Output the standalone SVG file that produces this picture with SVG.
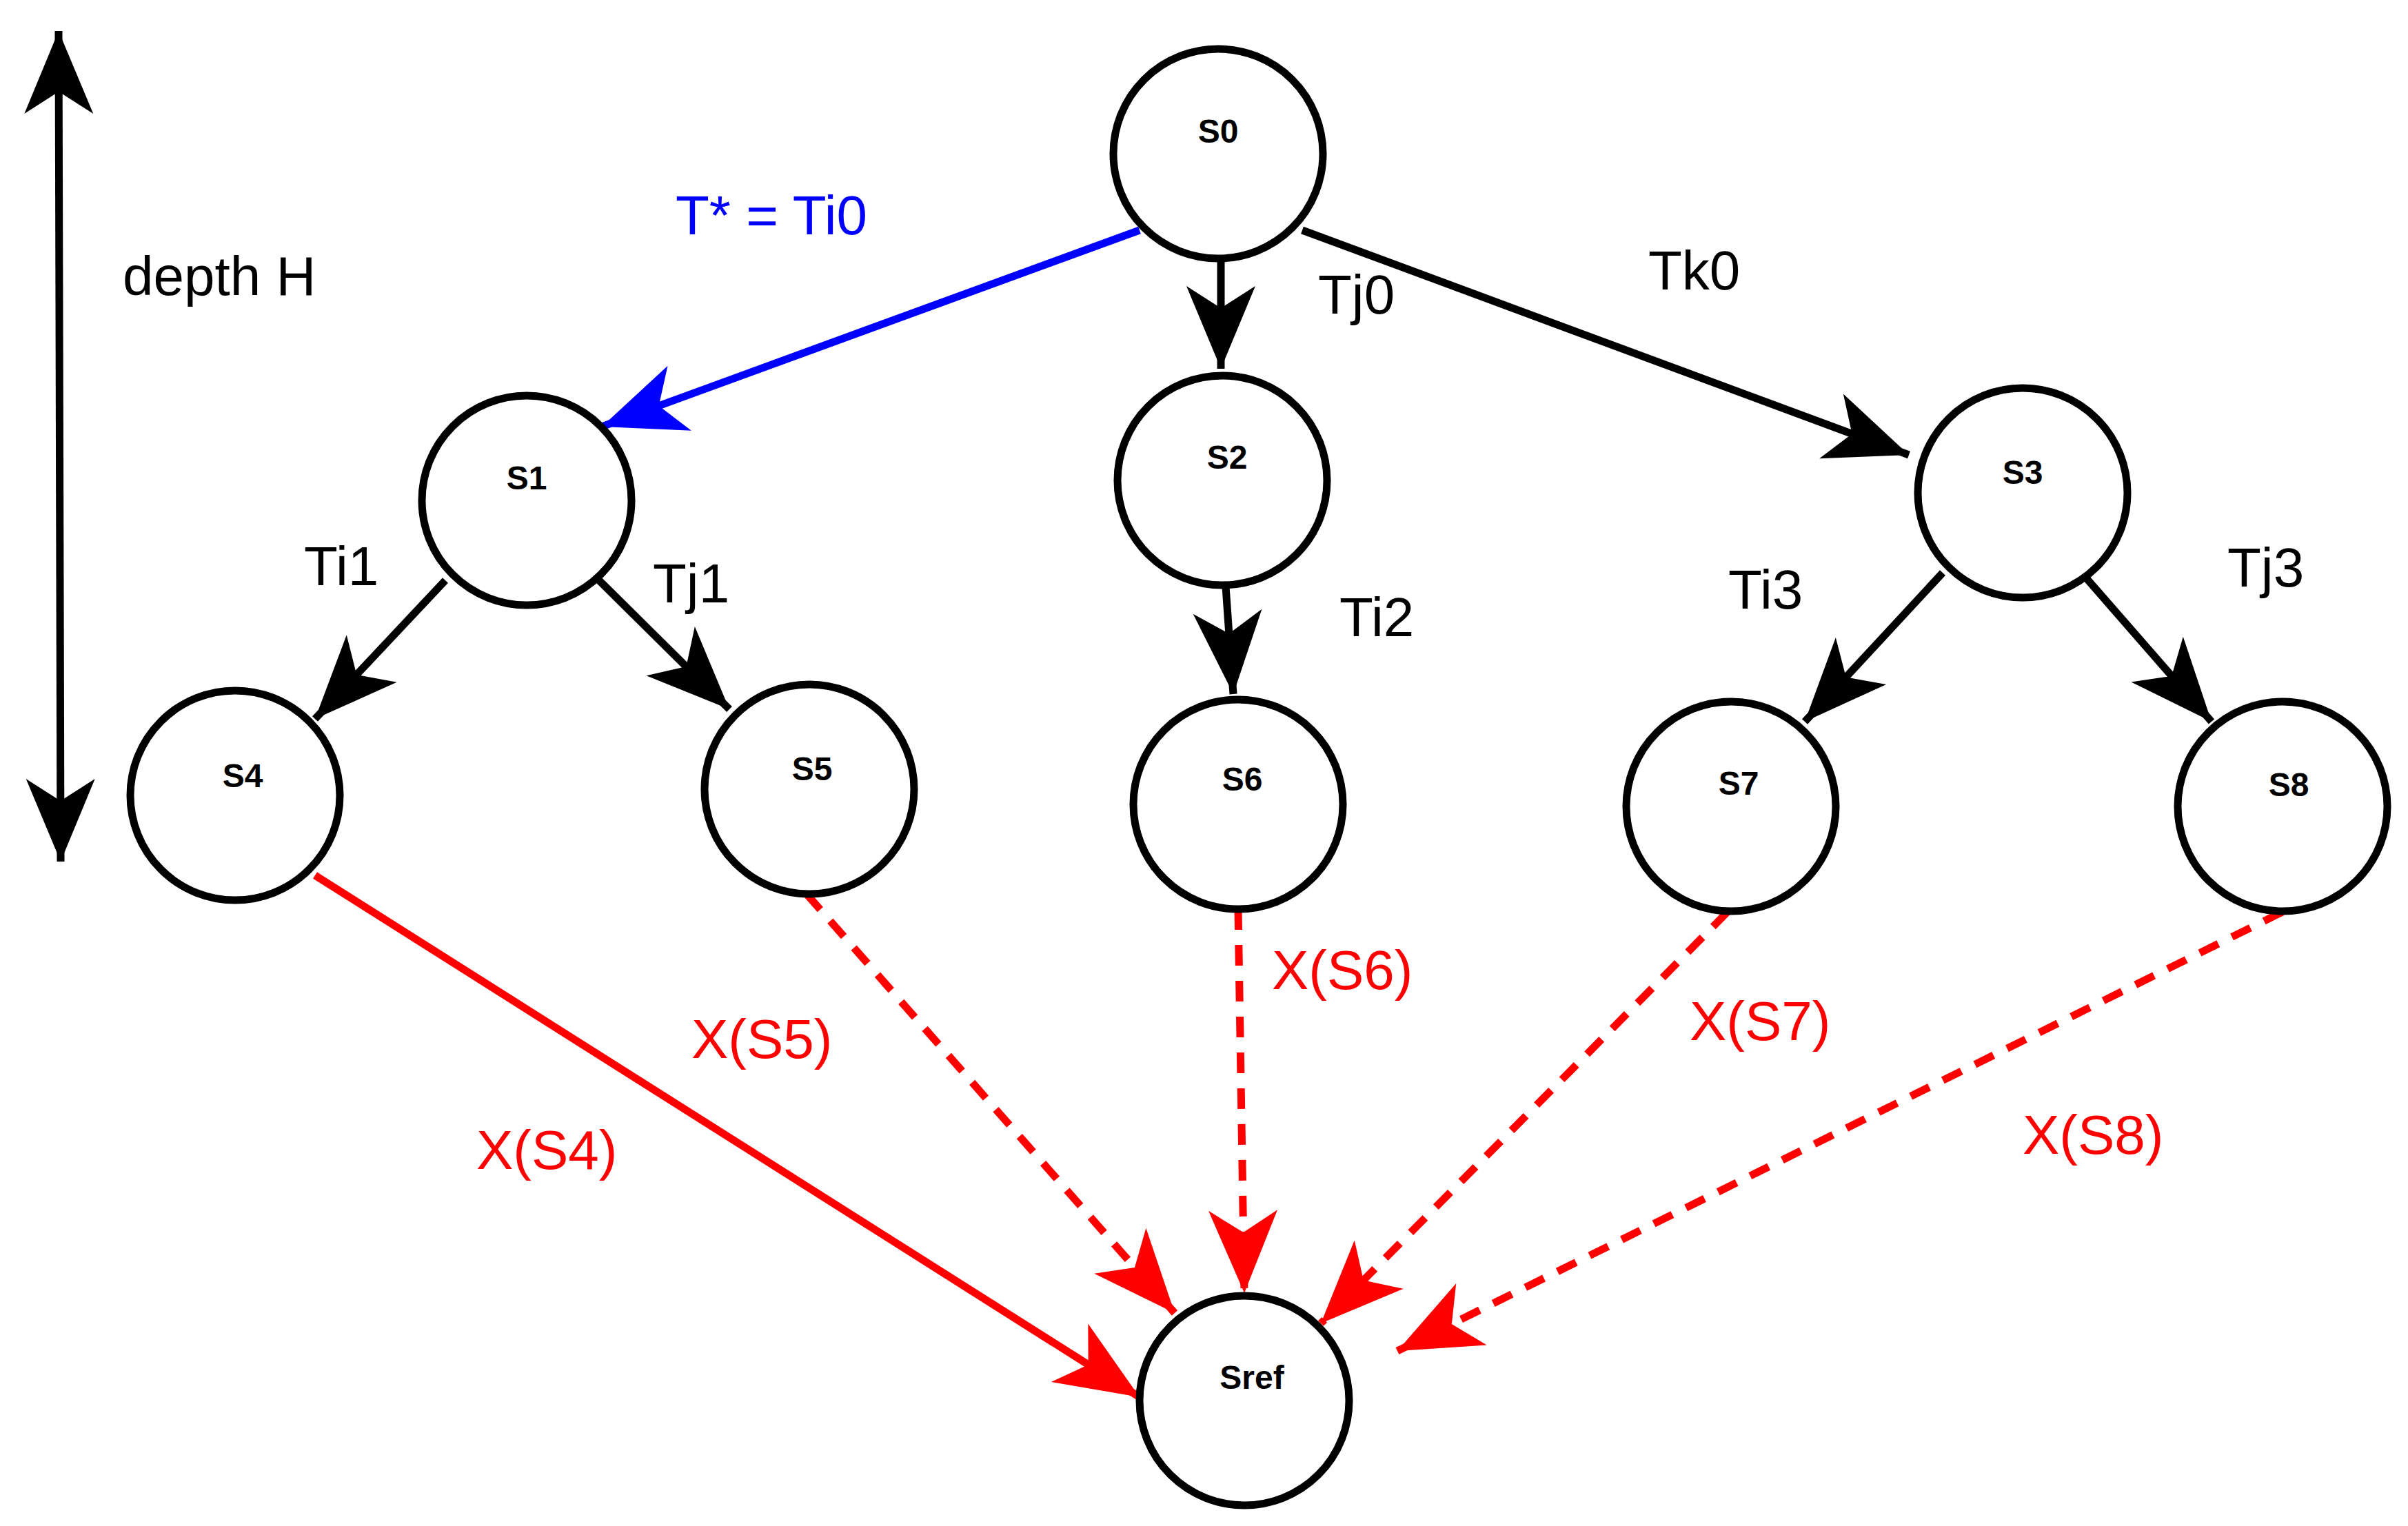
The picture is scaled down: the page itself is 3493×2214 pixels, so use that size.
<svg xmlns="http://www.w3.org/2000/svg" width="3493" height="2214" viewBox="0 0 3493 2214">
<style>
.n{fill:#fff;stroke:#000;stroke-width:11}
.nl{font-family:"Liberation Sans",Arial,sans-serif;font-weight:bold;font-size:48px;text-anchor:middle;dominant-baseline:central}
.t{font-family:"Liberation Sans",Arial,sans-serif;font-size:80px}
.e{fill:none;stroke-width:11}
</style>
<defs>
<marker id="ak" markerUnits="userSpaceOnUse" viewBox="-130 -60 140 120" refX="0" refY="0" markerWidth="140" markerHeight="120" orient="auto-start-reverse"><path d="M0,0 L-120,-50 L-88,0 L-120,50 Z" fill="#000"/></marker>
<marker id="ab" markerUnits="userSpaceOnUse" viewBox="-130 -60 140 120" refX="0" refY="0" markerWidth="140" markerHeight="120" orient="auto"><path d="M0,0 L-120,-50 L-88,0 L-120,50 Z" fill="#00f"/></marker>
<marker id="ar" markerUnits="userSpaceOnUse" viewBox="-130 -60 140 120" refX="0" refY="0" markerWidth="140" markerHeight="120" orient="auto"><path d="M0,0 L-120,-50 L-88,0 L-120,50 Z" fill="#f00"/></marker>
</defs>
<rect width="3493" height="2214" fill="#fff"/>
<g id="connectors">
<line class="e" x1="85" y1="45" x2="88" y2="1250" stroke="#000" marker-start="url(#ak)" marker-end="url(#ak)"/>
<line class="e" x1="1653" y1="334" x2="873" y2="619" stroke="#00f" marker-end="url(#ab)"/>
<line class="e" x1="1771" y1="379" x2="1771" y2="535" stroke="#000" marker-end="url(#ak)"/>
<line class="e" x1="1889" y1="334" x2="2769" y2="660" stroke="#000" marker-end="url(#ak)"/>
<line class="e" x1="646" y1="842" x2="457" y2="1043" stroke="#000" marker-end="url(#ak)"/>
<line class="e" x1="869" y1="842" x2="1058" y2="1029" stroke="#000" marker-end="url(#ak)"/>
<line class="e" x1="1778" y1="851" x2="1789" y2="1007" stroke="#000" marker-end="url(#ak)"/>
<line class="e" x1="2818" y1="831" x2="2618" y2="1047" stroke="#000" marker-end="url(#ak)"/>
<line class="e" x1="3023" y1="835" x2="3208" y2="1047" stroke="#000" marker-end="url(#ak)"/>
<line class="e" x1="457" y1="1270" x2="1653" y2="2027" stroke="#f00" marker-end="url(#ar)"/>
<line class="e" x1="1170" y1="1297" x2="1704" y2="1905" stroke="#f00" stroke-dasharray="30,22" marker-end="url(#ar)"/>
<line class="e" x1="1796" y1="1319" x2="1805" y2="1876" stroke="#f00" stroke-dasharray="30,22" marker-end="url(#ar)"/>
<line class="e" x1="2506" y1="1323" x2="1916" y2="1920" stroke="#f00" stroke-dasharray="30,22" marker-end="url(#ar)"/>
<line class="e" x1="3311" y1="1323" x2="2027" y2="1960" stroke="#f00" stroke-dasharray="30,22" marker-end="url(#ar)"/>
</g>
<g id="S0"><circle class="n" cx="1767" cy="223" r="152"/><text class="nl" x="1767" y="190">S0</text></g>
<g id="S1"><circle class="n" cx="764" cy="726" r="152"/><text class="nl" x="764" y="693">S1</text></g>
<g id="S2"><circle class="n" cx="1773" cy="697" r="152"/><text class="nl" x="1780" y="663">S2</text></g>
<g id="S3"><circle class="n" cx="2934" cy="715" r="152"/><text class="nl" x="2934" y="685">S3</text></g>
<g id="S4"><circle class="n" cx="341" cy="1154" r="152"/><text class="nl" x="352" y="1125">S4</text></g>
<g id="S5"><circle class="n" cx="1174" cy="1145" r="152"/><text class="nl" x="1178" y="1115">S5</text></g>
<g id="S6"><circle class="n" cx="1796" cy="1167" r="152"/><text class="nl" x="1802" y="1130">S6</text></g>
<g id="S7"><circle class="n" cx="2511" cy="1170" r="152"/><text class="nl" x="2522" y="1136">S7</text></g>
<g id="S8"><circle class="n" cx="3311" cy="1170" r="152"/><text class="nl" x="3320" y="1138">S8</text></g>
<g id="Sref"><circle class="n" cx="1805" cy="2032" r="152" stroke="#f00"/><text class="nl" x="1816" y="1998">Sref</text></g>
<g id="labels">
<text class="t" x="980" y="340" fill="#00f">T* = Ti0</text>
<text class="t" x="178" y="428">depth H</text>
<text class="t" x="1912" y="455">Tj0</text>
<text class="t" x="2391" y="420">Tk0</text>
<text class="t" x="441" y="849">Ti1</text>
<text class="t" x="947" y="874">Tj1</text>
<text class="t" x="1943" y="923">Ti2</text>
<text class="t" x="2507" y="883">Ti3</text>
<text class="t" x="3231" y="851">Tj3</text>
<text class="t" x="1003" y="1535" fill="#f00">X(S5)</text>
<text class="t" x="691" y="1696" fill="#f00">X(S4)</text>
<text class="t" x="1845" y="1435" fill="#f00">X(S6)</text>
<text class="t" x="2451" y="1509" fill="#f00">X(S7)</text>
<text class="t" x="2934" y="1674" fill="#f00">X(S8)</text>
</g>
</svg>
